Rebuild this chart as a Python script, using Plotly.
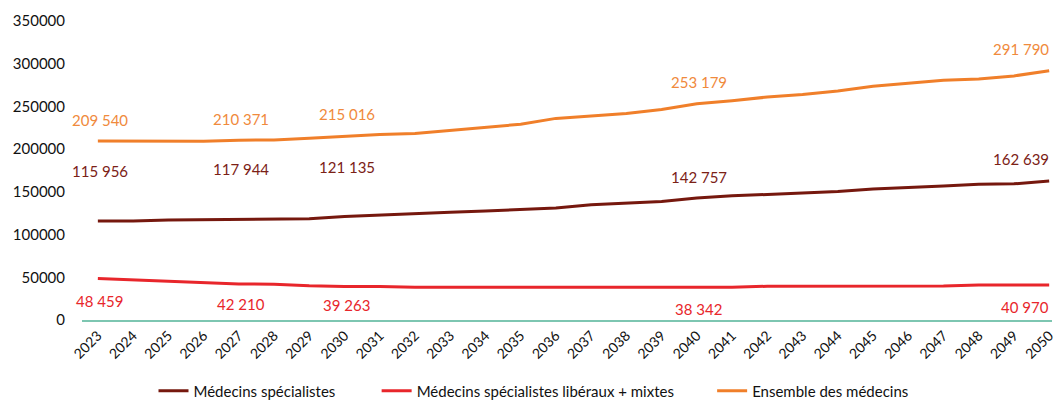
import plotly.graph_objects as go

years = list(range(2023, 2051))

specialistes = [
    115956, 116000, 117000, 117300, 117944, 118100, 118500, 121135,
    122500, 124000, 126000, 127500, 129000, 131000, 135000, 136800,
    138800, 142757, 145400, 147000, 148500, 150500, 153200, 155500,
    157000, 159000, 159400, 162639,
]
liberaux_mixtes = [
    48459, 46800, 45000, 43500, 42210, 41800, 40000, 39263,
    39300, 38300, 38300, 38300, 38300, 38300, 38300, 38300,
    38300, 38342, 38300, 39500, 39700, 39700, 39700, 39700,
    39700, 40900, 40900, 40970,
]
ensemble = [
    209540, 209300, 209200, 209300, 210371, 210800, 212800, 215016,
    217000, 218300, 222200, 226000, 229200, 236000, 239000, 241700,
    246400, 253179, 256700, 261000, 264000, 268000, 273700, 277500,
    280700, 282200, 285700, 291790,
]

label_years = [2023, 2027, 2030, 2040, 2050]

series_names = [
    "Médecins spécialistes",
    "Médecins spécialistes libéraux + mixtes",
    "Ensemble des médecins",
]
series_values = [specialistes, liberaux_mixtes, ensemble]
line_colors = ["#76180E", "#E8262B", "#F07F2A"]
label_colors = ["#7B2116", "#E8262B", "#F08A3C"]
FONT = "Lato, 'Open Sans', sans-serif"


def fmt(v):
    return f"{v:,}".replace(",", " ")


# vertical offset (px) of the value labels per series, per labelled year
label_shift = {
    0: {2023: 50, 2027: 50, 2030: 50, 2040: 21, 2050: 22},
    1: {2023: -22, 2027: -20, 2030: -19, 2040: -22, 2050: -22},
    2: {2023: 21, 2027: 21, 2030: 22, 2040: 22, 2050: 22},
}
legend_x = [0.1455, 0.357, 0.675]

fig = go.Figure()
for i, (name, vals) in enumerate(zip(series_names, series_values)):
    fig.add_trace(
        go.Scatter(
            x=years,
            y=vals,
            mode="lines",
            name=name,
            line=dict(color=line_colors[i], width=3),
            legend="legend" if i == 0 else f"legend{i + 1}",
        )
    )
    for yr in label_years:
        v = vals[years.index(yr)]
        fig.add_annotation(
            x=yr,
            y=v,
            text=fmt(v),
            showarrow=False,
            xanchor="right" if yr == 2050 else "center",
            xshift=2,
            yshift=label_shift[i][yr],
            font=dict(family=FONT, size=15, color=label_colors[i]),
        )

legend_common = dict(
    orientation="h",
    yref="container",
    xref="container",
    yanchor="middle",
    y=0.025,
    xanchor="left",
    font=dict(family=FONT, size=15, color="#111"),
    bgcolor="rgba(0,0,0,0)",
    itemwidth=30,
)
layout_legends = {}
for i, lx in enumerate(legend_x):
    key = "legend" if i == 0 else f"legend{i + 1}"
    layout_legends[key] = dict(legend_common, x=lx)

fig.update_layout(
    width=1055,
    height=401,
    margin=dict(l=82, r=3, t=21, b=81, autoexpand=False),
    paper_bgcolor="white",
    plot_bgcolor="white",
    showlegend=True,
    font=dict(family=FONT, size=15, color="#111"),
    xaxis=dict(
        range=[2022.55, 2050.08],
        tickmode="array",
        tickvals=years,
        ticktext=[str(y) for y in years],
        tickangle=-45,
        showgrid=False,
        zeroline=False,
        showline=True,
        linecolor="#7DC6B1",
        linewidth=2,
        ticks="",
        automargin=False,
        ticklabeloverflow="allow",
        tickfont=dict(family=FONT, size=14, color="#111"),
    ),
    yaxis=dict(
        range=[0, 350000],
        tickvals=[0, 50000, 100000, 150000, 200000, 250000, 300000, 350000],
        ticktext=["0", "50000", "100000", "150000", "200000", "250000", "300000", "350000"],
        showgrid=False,
        zeroline=False,
        showline=False,
        ticks="",
        automargin=False,
        ticklabelstandoff=16,
        tickfont=dict(family=FONT, size=15, color="#111"),
    ),
    **layout_legends,
)

fig.write_html(
    "out.html",
    config={"displayModeBar": False},
    post_script="document.body.style.margin = '0';",
)
